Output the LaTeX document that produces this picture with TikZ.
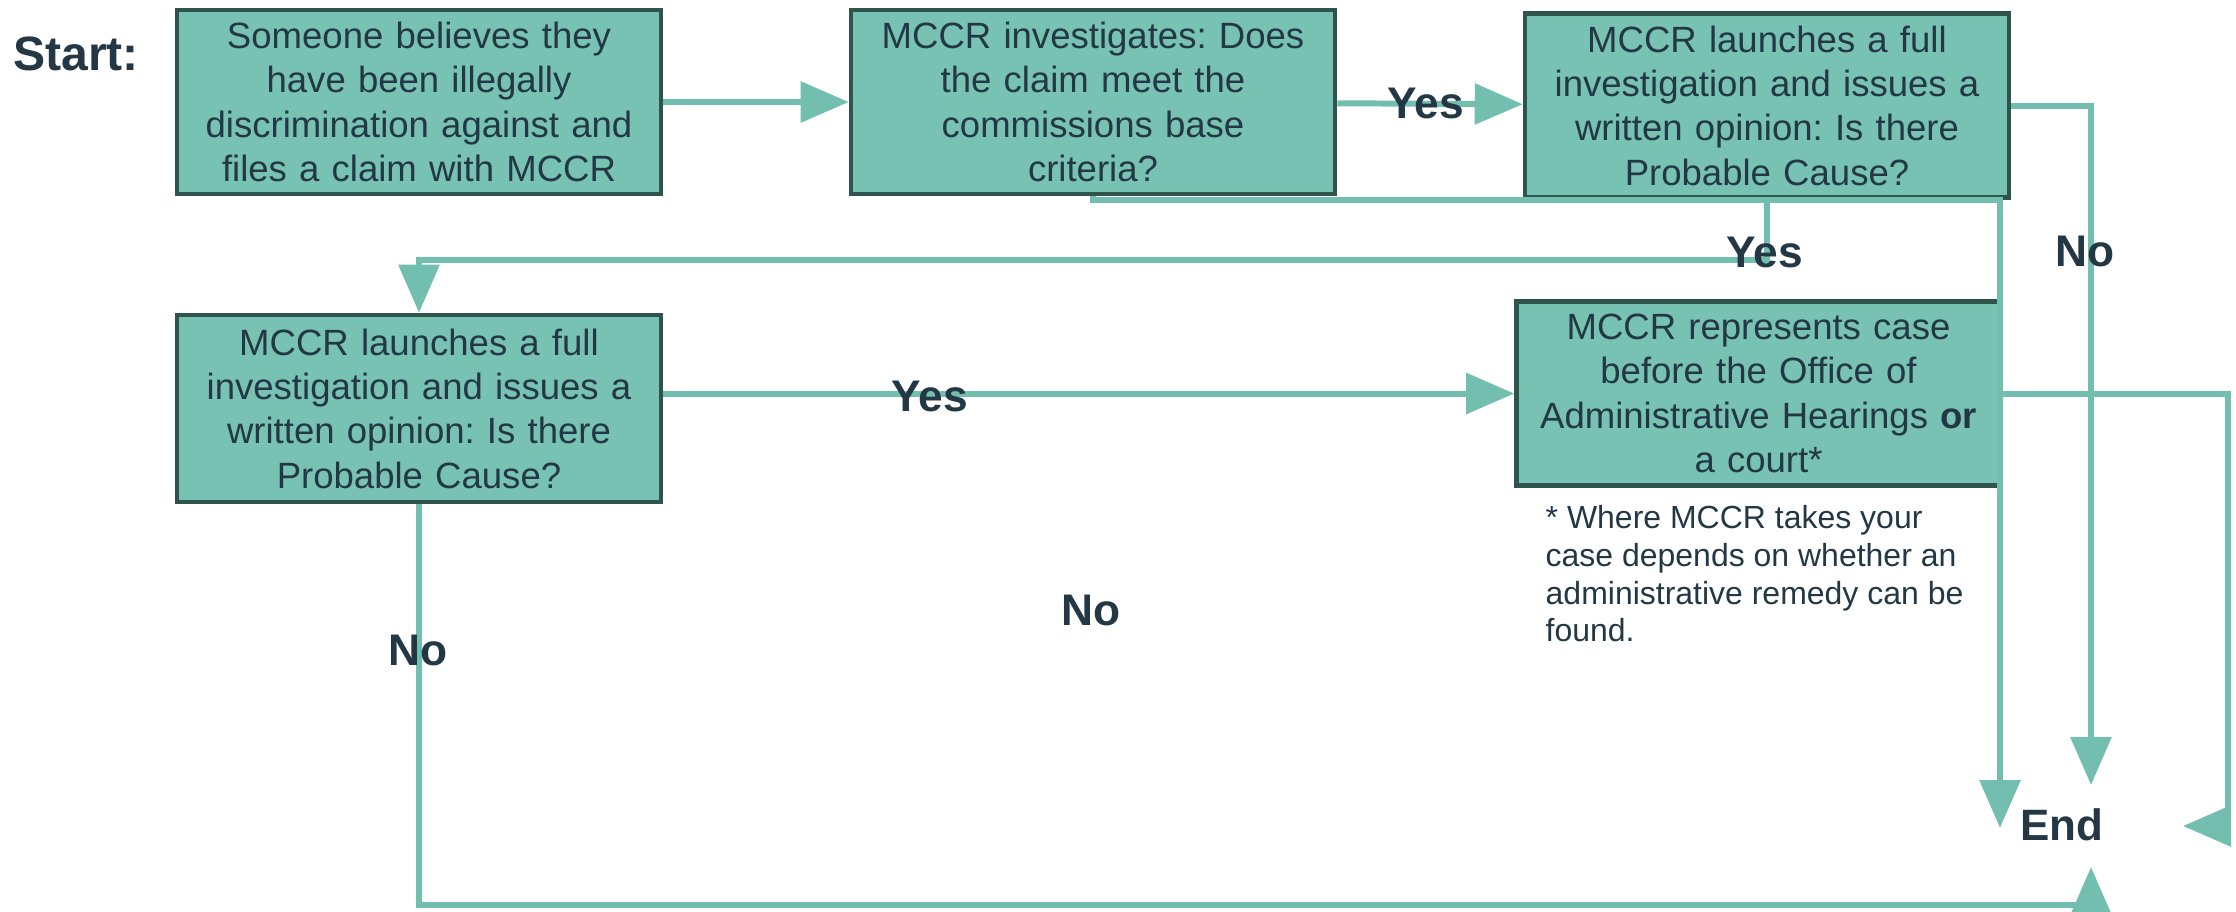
\documentclass[tikz,border=0pt]{standalone}
\usepackage{fontspec}
\setmainfont{Liberation Sans}
\frenchspacing
\usetikzlibrary{
    arrows.meta,
    positioning,
    calc
}
\definecolor{boxfill}{RGB}{120, 194, 180}
\definecolor{boxline}{RGB}{47, 84, 76}
\definecolor{flowteal}{RGB}{114, 191, 176}
\definecolor{inkdark}{RGB}{35, 56, 68}

\begin{document}
\begin{tikzpicture}[
        block/.style={draw=boxline, line width=1.3pt, fill=boxfill, text=inkdark, align=center,
            minimum width=4.84cm, minimum height=1.84cm, text width=4.7cm, inner xsep=0.05cm,
            font=\fontsize{10.4}{12.6}\selectfont},
        arrow/.style={-{Triangle[length=0.48cm, width=0.4cm]}, line width=1.7pt, draw=flowteal},
        answer/.style={text=inkdark, inner sep=0pt, font=\fontsize{12.6}{15}\selectfont\bfseries}
    ]
        % Frame
        \useasboundingbox (0, 0) rectangle (22.36, -9.11);

        % Start
        \node[answer, font=\fontsize{13.7}{16}\selectfont\bfseries] (start) at (0.76, -0.54) {Start:};

        % Top row
        \node[block] (claim) at (4.19, -1.02) {
            Someone believes they\\
            have been illegally\\
            discrimination against and\\
            files a claim with MCCR
        };
        \node[block] (criteria) at (10.93, -1.02) {
            MCCR investigates: Does\\
            the claim meet the\\
            commissions base\\
            criteria?
        };
        \node[block] (probable) at (17.67, -1.055) {
            MCCR launches a full\\
            investigation and issues a\\
            written opinion: Is there\\
            Probable Cause?
        };

        % Second row
        \node[block, minimum height=1.87cm] (probabletwo) at (4.19, -4.085) {
            MCCR launches a full\\
            investigation and issues a\\
            written opinion: Is there\\
            Probable Cause?
        };
        \node[block] (hearing) at (17.585, -3.935) {
            MCCR represents case\\
            before the Office of\\
            Administrative Hearings \textbf{or}\\
            a court*
        };

        % Footnote
        \node[anchor=north west, align=left, text=inkdark, inner sep=0pt,
            font=\fontsize{9.1}{10.7}\selectfont] (note) at (15.45, -5.05) {
            * Where MCCR takes your\\
            case depends on whether an\\
            administrative remedy can be\\
            found.
        };

        % End
        \node[answer, font=\fontsize{12.5}{14}\selectfont\bfseries] (finish) at (20.62, -8.25) {End};
        \coordinate (endleft) at (20.0, -8.28);
        \coordinate (endtop) at (20.91, -7.85);
        \coordinate (endright) at (21.83, -8.26);
        \coordinate (endbottom) at (20.91, -8.67);
        \coordinate (farright) at (22.28, -8.26);
        \coordinate (nobottom) at (20.91, -9.05);

        % Arrows
        \draw[arrow] (claim) -- (criteria);
        \draw[arrow] (criteria) -- (probable);
        \draw[arrow] (probable.east) -| (endtop);
        \draw[arrow] (criteria.south) |- (endleft |- probable.south) -- (endleft);
        \draw[arrow] (probable.south) -- ++(0, -0.6) -| (probabletwo.north);
        \draw[arrow] (probabletwo.east |- hearing.west) -- (hearing.west);
        \draw[arrow] (probabletwo.south) |- (nobottom) -- (endbottom);
        \draw[arrow] (hearing.east) -| (farright) -- (endright);

        % Answers
        \node[answer] (yesa) at (14.26, -1.03) {Yes};
        \node[answer] (noa) at (20.85, -2.51) {No};
        \node[answer] (yesb) at (17.65, -2.52) {Yes};
        \node[answer] (yesc) at (9.30, -3.96) {Yes};
        \node[answer] (nob) at (10.91, -6.10) {No};
        \node[answer] (noc) at (4.18, -6.50) {No};
    \end{tikzpicture}
\end{document}
